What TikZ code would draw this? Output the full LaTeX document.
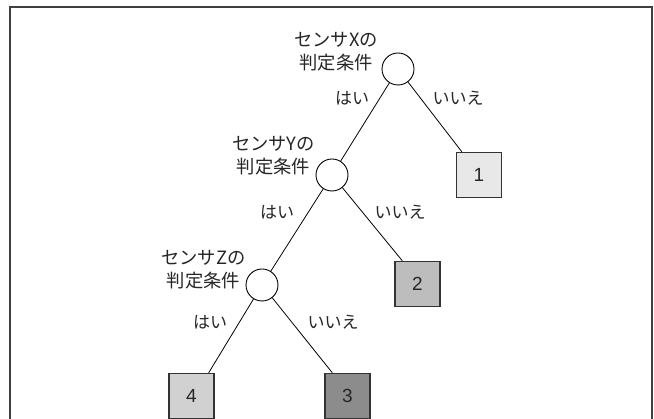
\documentclass[tikz,border=0pt]{standalone}
\usepackage{fontspec}
\setmainfont{Liberation Sans}
\newfontfamily\jpfont{Noto Sans CJK JP}
\usetikzlibrary{calc}
\tikzset{
  cond/.style={circle, draw=black, line width=0.9pt, fill=white, minimum size=32pt, inner sep=0pt},
  leaf/.style={rectangle, draw=black!80, line width=1.3pt, minimum size=45pt, inner sep=0pt, font=\fontsize{19}{19}\selectfont, text=black!85},
  lbl/.style={font=\jpfont\fontsize{18.3}{23}\selectfont, align=center, inner sep=0pt, text=black!85},
  ans/.style={font=\jpfont\fontsize{17}{17}\selectfont, inner sep=0pt, text=black!85},
  conn/.style={line width=0.8pt, black}
}
\begin{document}
\begin{tikzpicture}[x=1pt, y=-1pt]
\useasboundingbox (0,0) rectangle (654,419);
\fill[white] (0,0) rectangle (654,419);
\draw[line width=1.8pt, black!75] (10,425) -- (10,7) -- (652,7) -- (652,425);

\node[cond] (X) at (398,69) {};
\node[cond] (Y) at (332,175) {};
\node[cond] (Z) at (262,285) {};

\node[leaf, fill=black!9] (b1) at (479,175) {1};
\node[leaf, fill=black!26] (b2) at (417.5,284) {2};
\node[leaf, fill=black!45] (b3) at (347.5,396) {3};
\node[leaf, fill=black!18] (b4) at (191.5,396) {4};

\node[lbl] (lx) at (336,52) {センサXの\\判定条件};
\node[lbl] (ly) at (273.5,156) {センサYの\\判定条件};
\node[lbl] (lz) at (203.5,270) {センサZの\\判定条件};

\node[ans] (hx) at (352,98) {はい};
\node[ans] (ix) at (458,98) {いいえ};
\node[ans] (hy) at (277,212) {はい};
\node[ans] (iy) at (400,212) {いいえ};
\node[ans] (hz) at (210,322) {はい};
\node[ans] (iz) at (333,322) {いいえ};

\draw[conn] (X) -- (Y);
\draw[conn] (X) -- ($(b1.north west)+(6,0)$);
\draw[conn] (Y) -- (Z);
\draw[conn] (Y) -- ($(b2.north west)+(8,0)$);
\draw[conn] (Z) -- ($(b4.north east)+(-6,0)$);
\draw[conn] (Z) -- ($(b3.north west)+(8,0)$);
\end{tikzpicture}
\end{document}
